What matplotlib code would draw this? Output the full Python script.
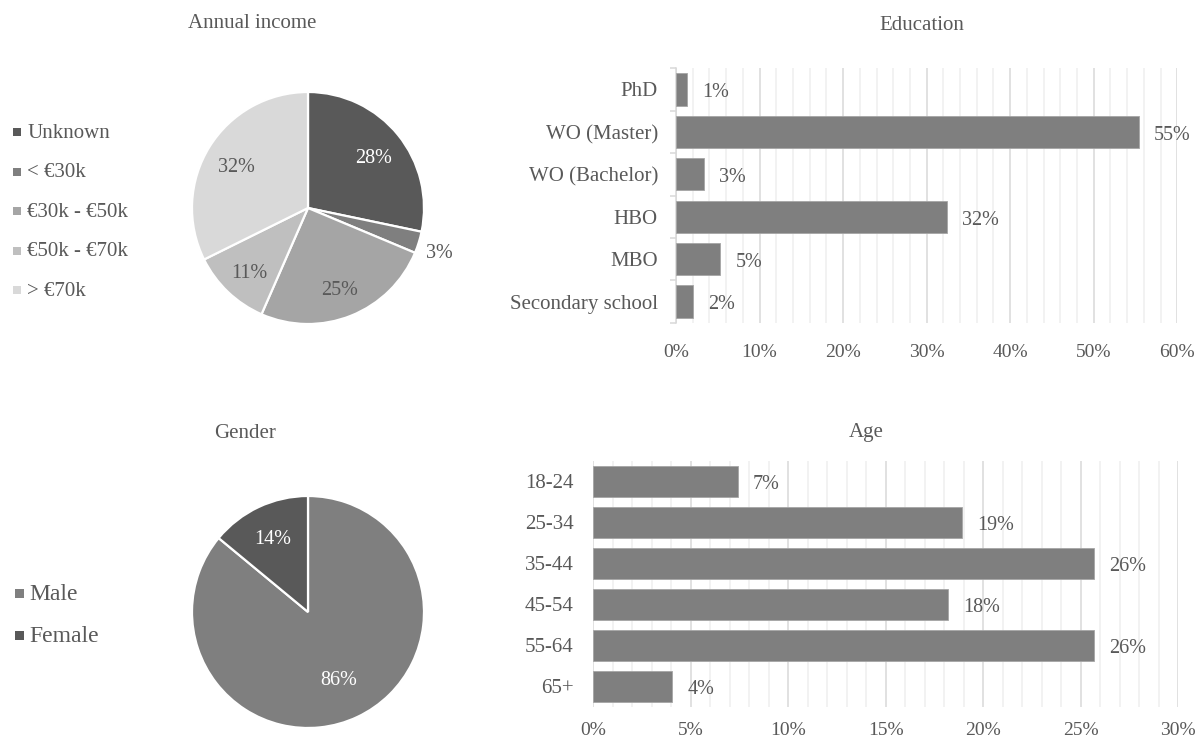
import matplotlib
matplotlib.use("Agg")
import matplotlib.pyplot as plt
from matplotlib.patches import Rectangle
from matplotlib.ticker import FixedLocator, MultipleLocator

# data
income_labels = ["Unknown", "< €30k", "€30k - €50k", "€50k - €70k", "> €70k"]
income_share = [28, 3, 25, 11, 32]
income_colors = ["#595959", "#7f7f7f", "#a5a5a5", "#bfbfbf", "#d9d9d9"]

gender_labels = ["Male", "Female"]
gender_share = [86, 14]
gender_colors = ["#7f7f7f", "#595959"]

edu_labels = ["PhD", "WO (Master)", "WO (Bachelor)", "HBO", "MBO", "Secondary school"]
edu_share = [1.3, 55.4, 3.3, 32.4, 5.3, 2.0]

age_labels = ["18-24", "25-34", "35-44", "45-54", "55-64", "65+"]
age_share = [7.4, 18.9, 25.7, 18.2, 25.7, 4.05]

TXT = "#595959"
W, H = 1197, 740

plt.rcParams["font.family"] = ["Liberation Serif", "DejaVu Serif"]
plt.rcParams["text.color"] = TXT

fig = plt.figure(figsize=(W / 100, H / 100), dpi=100)


def px_axes(x0, y0, x1, y1):
    # pixel box (top-left origin) -> figure axes
    return fig.add_axes([x0 / W, 1 - y1 / H, (x1 - x0) / W, (y1 - y0) / H])


def px_text(x, y, s, **kw):
    fig.text(x / W, 1 - y / H, s, **kw)


def px_legend(x, y0, step, labels, colors, size, box):
    for i, (lab, col) in enumerate(zip(labels, colors)):
        y = y0 + i * step
        fig.add_artist(Rectangle(((x - box - 6) / W, 1 - (y + box / 2 - 1) / H),
                                 box / W, box / H, transform=fig.transFigure,
                                 facecolor=col, edgecolor="none"))
        px_text(x, y, lab, fontsize=size, color=TXT, va="center", ha="left")


def nudge(texts, dy):
    for t in texts:
        x, y = t.get_position()
        t.set_position((x, y - dy))


# ---- Annual income pie ----
ax1 = px_axes(192, 92, 424, 324)
wedges, _, autotexts = ax1.pie(
    income_share, colors=income_colors, startangle=90, counterclock=False,
    autopct="%.0f%%", pctdistance=0.73,
    wedgeprops=dict(edgecolor="white", linewidth=1.6),
    textprops=dict(fontsize=14.5, color=TXT),
)
autotexts[0].set_color("white")
x, y = autotexts[1].get_position()
autotexts[1].set_position((x * 1.19 / 0.73, y * 1.19 / 0.73))
nudge(autotexts, 0.035)
ax1.set_xlim(-1, 1)
ax1.set_ylim(-1, 1)
px_text(252.5, 24, "Annual income", fontsize=15, ha="center", va="center")
px_legend(27, 133, 39.6, income_labels, income_colors, 15, 8)

# ---- Gender pie ----
ax2 = px_axes(192, 496, 424, 728)
wedges, _, autotexts = ax2.pie(
    gender_share, colors=gender_colors, startangle=90, counterclock=False,
    autopct="%.0f%%", pctdistance=0.72,
    wedgeprops=dict(edgecolor="white", linewidth=1.6),
    textprops=dict(fontsize=14.5, color="white"),
)
x, y = autotexts[0].get_position()
autotexts[0].set_position((x * 0.62 / 0.72, y * 0.62 / 0.72))
nudge(autotexts, 0.03)
ax2.set_xlim(-1, 1)
ax2.set_ylim(-1, 1)
px_text(245.5, 434, "Gender", fontsize=15, ha="center", va="center")
px_legend(29.5, 594.5, 41.6, gender_labels, gender_colors, 17, 9)


def style_bars(ax, vals, labels, xmax, major, minor, xpad, ypad):
    pos = list(range(len(vals)))
    bars = ax.barh(pos, vals, height=0.76, color="#7f7f7f",
                   edgecolor="#a6a6a6", linewidth=0.6, zorder=3)
    anns = ax.bar_label(bars, fmt="%.0f%%", padding=11, fontsize=14.5, color=TXT)
    for a in anns:
        a.xyann = (11, -2.5)
    ax.set_yticks(pos)
    ax.set_yticklabels(labels)
    ax.set_ylim(len(vals) - 0.5, -0.5)
    ax.set_xlim(0, xmax)
    ax.xaxis.set_major_locator(MultipleLocator(major))
    ax.xaxis.set_minor_locator(MultipleLocator(minor))
    ax.set_xticklabels([f"{v:.0f}%" for v in ax.get_xticks()])
    ax.grid(axis="x", which="major", color="#d9d9d9", linewidth=1.1, zorder=0)
    ax.grid(axis="x", which="minor", color="#efefef", linewidth=1.1, zorder=0)
    ax.set_axisbelow(True)
    for s in ax.spines.values():
        s.set_visible(False)
    ax.tick_params(axis="x", which="both", length=0, pad=xpad,
                   labelsize=14, labelcolor=TXT)
    ax.tick_params(axis="y", which="major", length=0, pad=ypad,
                   labelsize=15, labelcolor=TXT)


# ---- Education bars ----
ax3 = px_axes(676, 68.3, 1177.3, 322.7)
style_bars(ax3, edu_share, edu_labels, 60, 10, 2, 15, 12.5)
ax3.spines["left"].set_visible(True)
ax3.spines["left"].set_color("#d9d9d9")
ax3.spines["left"].set_linewidth(1.1)
ax3.yaxis.set_minor_locator(FixedLocator([i - 0.5 for i in range(len(edu_share) + 1)]))
ax3.tick_params(axis="y", which="minor", length=4.5, width=1.1, color="#d9d9d9")
ax3.tick_params(axis="y", which="major", pad=13)
px_text(922, 26, "Education", fontsize=15, ha="center", va="center")

# ---- Age bars ----
ax4 = px_axes(593.3, 460.7, 1178, 706.7)
style_bars(ax4, age_share, age_labels, 30, 5, 1, 11, 14)
px_text(866, 433, "Age", fontsize=15, ha="center", va="center")

fig.savefig("out.png", dpi=100)
